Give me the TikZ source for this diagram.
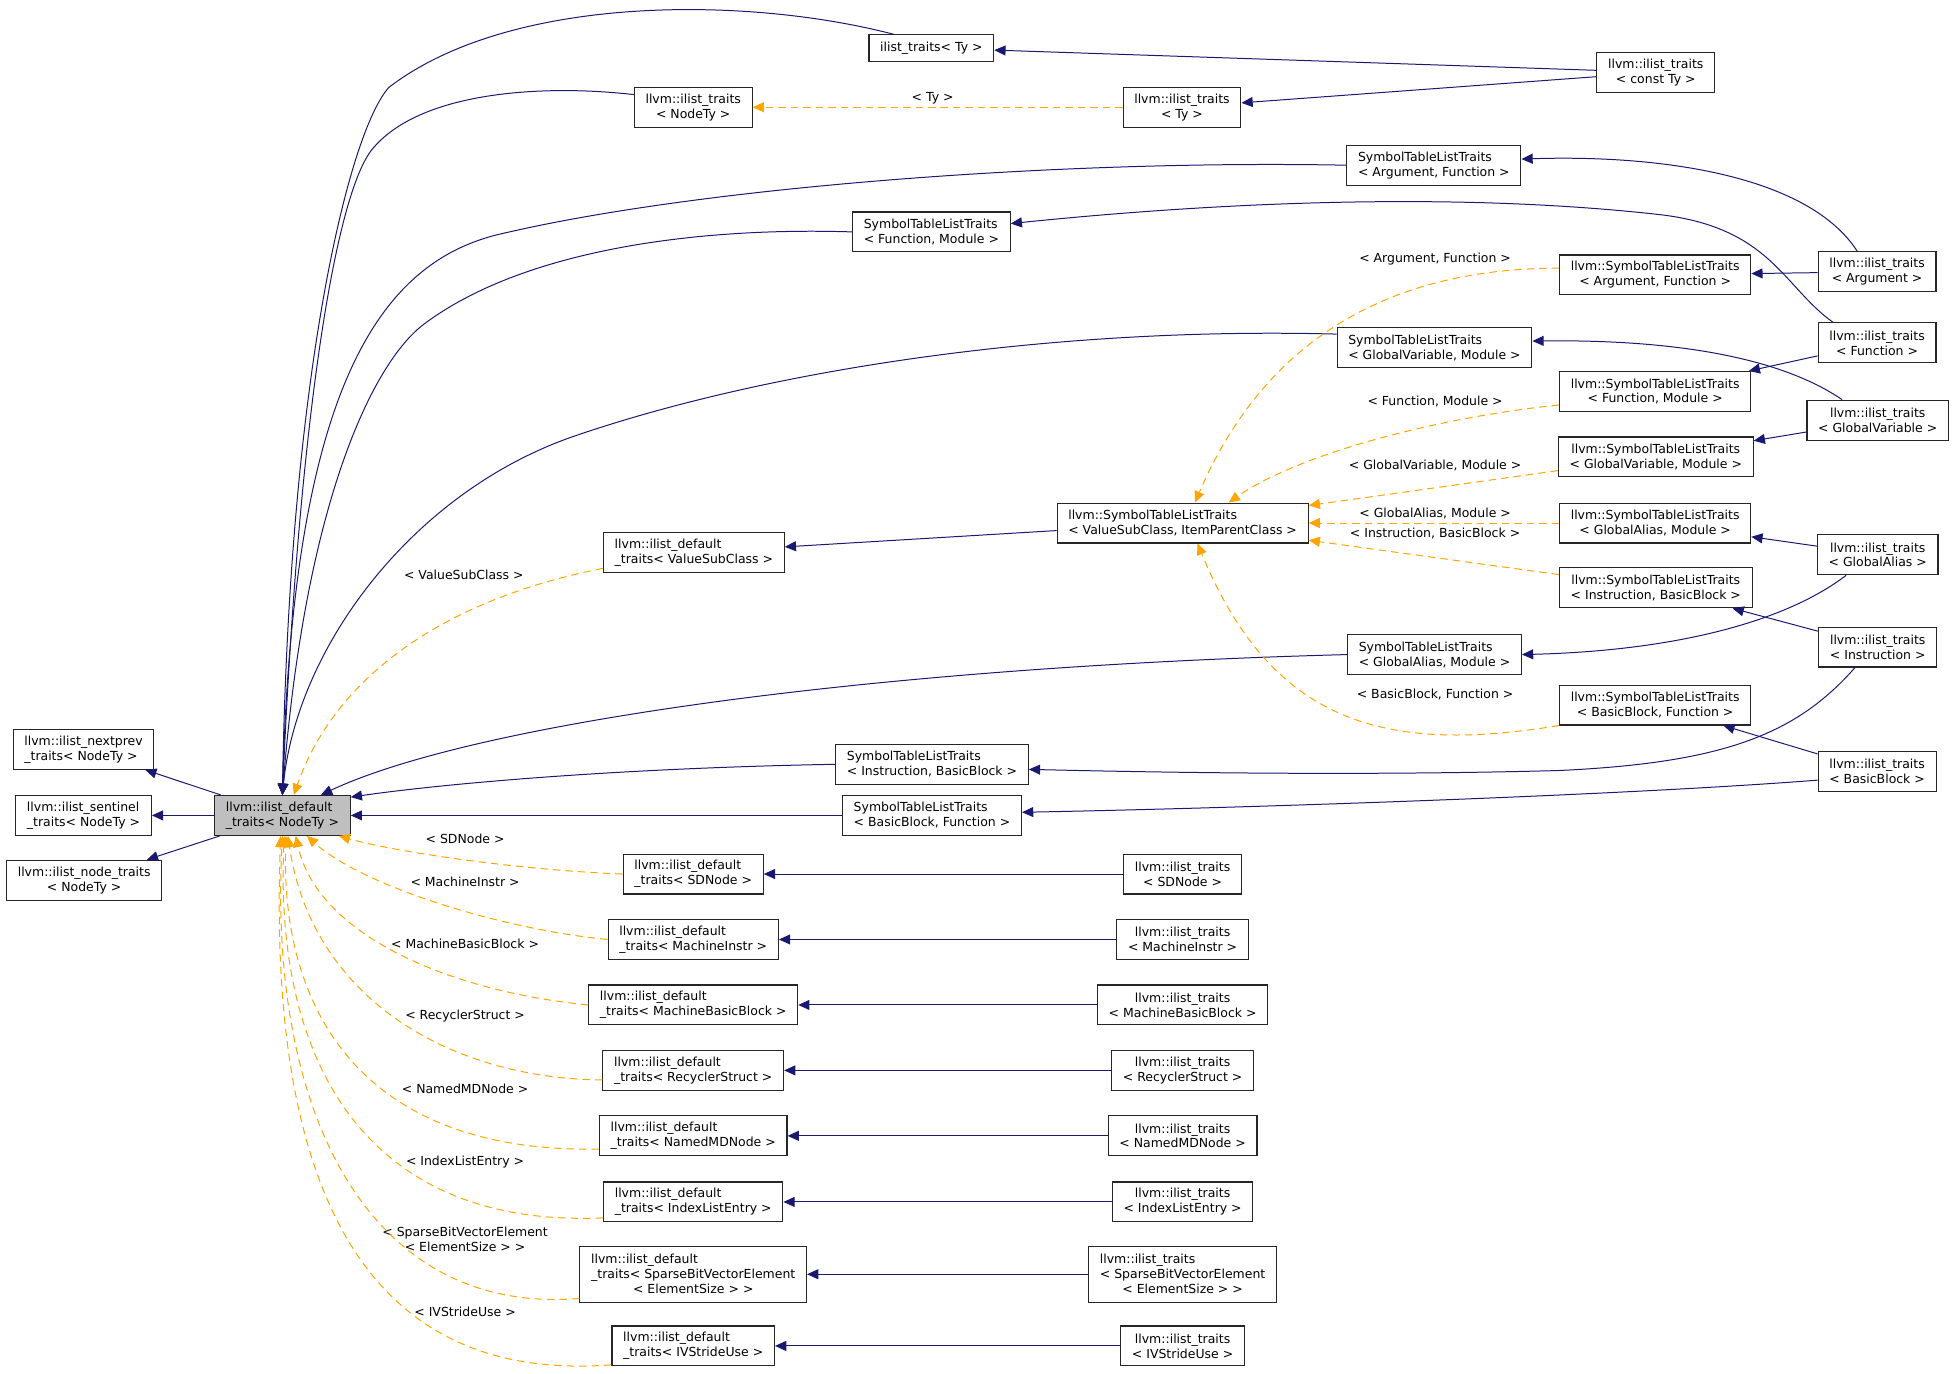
\documentclass[tikz,border=0pt]{standalone}
\usepackage{fontspec}
\setmainfont{DejaVu Sans}
\usepackage{tikz}
\usetikzlibrary{arrows.meta}
\definecolor{edgeblue}{HTML}{191970}
\definecolor{edgeorange}{HTML}{FFA500}
\definecolor{rootgray}{HTML}{BFBFBF}
\tikzset{
    basic/.style  = {draw=black!85, line width=0.9pt, rectangle, fill=white, font=\fontsize{10}{12}\selectfont, inner xsep=9pt, inner ysep=2pt, minimum height=32pt},
    cls/.style    = {basic, align=left},
    ccls/.style   = {basic, align=center},
    onecls/.style = {basic, minimum height=21pt},
    threecls/.style = {basic, align=center, minimum height=45pt},
    root/.style   = {cls, fill=rootgray},
    tlabel/.style = {font=\fontsize{10}{12}\selectfont, inner sep=0pt, align=center}
}
\begin{document}
\begin{tikzpicture}[x=1pt, y=-1pt,
	inherit edge/.style={->, draw=edgeblue, line width=0.8pt},
	template edge/.style={->, draw=edgeorange, line width=0.8pt, dash pattern=on 6pt off 4pt},
	>={Triangle[length=9pt,width=8pt]}]
	\useasboundingbox (0,0) rectangle (1568,1102);
	\node[root] (root) at (226.5,654) {llvm::ilist\_default\\\_traits< NodeTy >};
	\node[cls] (nextprev) at (67,601) {llvm::ilist\_nextprev\\\_traits< NodeTy >};
	\node[cls] (sentinel) at (67,654) {llvm::ilist\_sentinel\\\_traits< NodeTy >};
	\node[ccls] (nodetraits) at (67.5,706) {llvm::ilist\_node\_traits\\< NodeTy >};
	\node[onecls] (iltTy) at (747,38.5) {ilist\_traits< Ty >};
	\node[ccls] (iltNodeTy) at (556,86) {llvm::ilist\_traits\\< NodeTy >};
	\node[ccls] (lltTy) at (948,86) {llvm::ilist\_traits\\< Ty >};
	\node[ccls] (constTy) at (1328,58) {llvm::ilist\_traits\\< const Ty >};
	\node[cls] (stArgFn) at (1150,132.5) {SymbolTableListTraits\\< Argument, Function >};
	\node[cls] (stFnMod) at (747,186) {SymbolTableListTraits\\< Function, Module >};
	\node[cls] (stGVMod) at (1150.5,279) {SymbolTableListTraits\\< GlobalVariable, Module >};
	\node[cls] (stGAMod) at (1150.5,525) {SymbolTableListTraits\\< GlobalAlias, Module >};
	\node[cls] (stInstBB) at (747.5,613) {SymbolTableListTraits\\< Instruction, BasicBlock >};
	\node[cls] (stBBFn) at (747.5,654) {SymbolTableListTraits\\< BasicBlock, Function >};
	\node[cls] (vst) at (948.5,419.5) {llvm::SymbolTableListTraits\\< ValueSubClass, ItemParentClass >};
	\node[cls] (dVSC) at (556.5,443) {llvm::ilist\_default\\\_traits< ValueSubClass >};
	\node[ccls] (lstArgFn) at (1327.5,220.5) {llvm::SymbolTableListTraits\\< Argument, Function >};
	\node[ccls] (lstFnMod) at (1327.5,314) {llvm::SymbolTableListTraits\\< Function, Module >};
	\node[ccls] (lstGVMod) at (1328,366.5) {llvm::SymbolTableListTraits\\< GlobalVariable, Module >};
	\node[ccls] (lstGAMod) at (1327.5,419.5) {llvm::SymbolTableListTraits\\< GlobalAlias, Module >};
	\node[ccls] (lstInstBB) at (1328,471.5) {llvm::SymbolTableListTraits\\< Instruction, BasicBlock >};
	\node[ccls] (lstBBFn) at (1327.5,565.5) {llvm::SymbolTableListTraits\\< BasicBlock, Function >};
	\node[ccls] (tArg) at (1505.5,218) {llvm::ilist\_traits\\< Argument >};
	\node[ccls] (tFn) at (1505.5,275) {llvm::ilist\_traits\\< Function >};
	\node[ccls] (tGV) at (1506,337) {llvm::ilist\_traits\\< GlobalVariable >};
	\node[ccls] (tGA) at (1506,445) {llvm::ilist\_traits\\< GlobalAlias >};
	\node[ccls] (tInst) at (1506,519) {llvm::ilist\_traits\\< Instruction >};
	\node[ccls] (tBB) at (1505.5,619) {llvm::ilist\_traits\\< BasicBlock >};
	\node[cls] (dSD) at (556,701) {llvm::ilist\_default\\\_traits< SDNode >};
	\node[cls] (dMI) at (556,753.5) {llvm::ilist\_default\\\_traits< MachineInstr >};
	\node[cls] (dMBB) at (556,806) {llvm::ilist\_default\\\_traits< MachineBasicBlock >};
	\node[cls] (dRS) at (556,858.5) {llvm::ilist\_default\\\_traits< RecyclerStruct >};
	\node[cls] (dNMD) at (556,911) {llvm::ilist\_default\\\_traits< NamedMDNode >};
	\node[cls] (dILE) at (556,964) {llvm::ilist\_default\\\_traits< IndexListEntry >};
	\node[threecls] (dSBV) at (556,1022) {\rlap{llvm::ilist\_default}\phantom{\_traits< SparseBitVectorElement}\\\_traits< SparseBitVectorElement\\< ElementSize > >};
	\node[cls] (dIVS) at (556,1079.5) {llvm::ilist\_default\\\_traits< IVStrideUse >};
	\node[ccls] (tSD) at (948.5,701) {llvm::ilist\_traits\\< SDNode >};
	\node[ccls] (tMI) at (948.5,753.5) {llvm::ilist\_traits\\< MachineInstr >};
	\node[ccls] (tMBB) at (948.5,806) {llvm::ilist\_traits\\< MachineBasicBlock >};
	\node[ccls] (tRS) at (948.5,858.5) {llvm::ilist\_traits\\< RecyclerStruct >};
	\node[ccls] (tNMD) at (948.5,911) {llvm::ilist\_traits\\< NamedMDNode >};
	\node[ccls] (tILE) at (948.5,964) {llvm::ilist\_traits\\< IndexListEntry >};
	\node[threecls] (tSBV) at (948.5,1022) {\rlap{llvm::ilist\_traits}\phantom{< SparseBitVectorElement}\\< SparseBitVectorElement\\< ElementSize > >};
	\node[ccls] (tIVS) at (948.5,1079.5) {llvm::ilist\_traits\\< IVStrideUse >};
	\node[tlabel] (lTy) at (748,79) {< Ty >};
	\node[tlabel] (lArgFn) at (1151,208) {< Argument, Function >};
	\node[tlabel] (lFnMod) at (1151,322) {< Function, Module >};
	\node[tlabel] (lGVMod) at (1151,373.5) {< GlobalVariable, Module >};
	\node[tlabel] (lGAMod) at (1151,412) {< GlobalAlias, Module >};
	\node[tlabel] (lInstBB) at (1151,428) {< Instruction, BasicBlock >};
	\node[tlabel] (lBBFn) at (1151,557) {< BasicBlock, Function >};
	\node[tlabel] (lVSC) at (372,461) {< ValueSubClass >};
	\node[tlabel] (lSD) at (373,673) {< SDNode >};
	\node[tlabel] (lMI) at (373,707) {< MachineInstr >};
	\node[tlabel] (lMBB) at (373,757) {< MachineBasicBlock >};
	\node[tlabel] (lRS) at (373,815) {< RecyclerStruct >};
	\node[tlabel] (lNMD) at (373,873.5) {< NamedMDNode >};
	\node[tlabel] (lILE) at (373,932) {< IndexListEntry >};
	\node[tlabel] (lSBV) at (373,994) {< SparseBitVectorElement\\< ElementSize > >};
	\node[tlabel] (lIVS) at (373,1052) {< IVStrideUse >};
	\draw[inherit edge] (root) -- (nextprev);
	\draw[inherit edge] (root) -- (sentinel);
	\draw[inherit edge] (root) -- (nodetraits);
	\draw[inherit edge] (iltTy.160) .. controls (600,-3) and (410,-5) .. (312,70) .. controls (280,105) and (232,300) .. (root.north);
	\draw[inherit edge] (iltNodeTy.168) .. controls (440,68) and (340,72) .. (300,118) .. controls (270,150) and (240,330) .. (root.north);
	\draw[inherit edge] (stArgFn.west) .. controls (850,128) and (560,150) .. (400,188) .. controls (300,212) and (235,320) .. (root.north);
	\draw[inherit edge] (stFnMod.west) .. controls (560,182) and (420,200) .. (340,260) .. controls (300,290) and (245,400) .. (root.north);
	\draw[inherit edge] (stGVMod.172) .. controls (850,262) and (620,295) .. (460,350) .. controls (330,395) and (238,520) .. (root.north);
	\draw[inherit edge] (stGAMod.west) .. controls (700,535) and (380,580) .. (root.28);
	\draw[inherit edge] (stInstBB.west) .. controls (500,616) and (360,628) .. (root.15);
	\draw[inherit edge] (stBBFn) -- (root);
	\draw[template edge] (dVSC.190) .. controls (360,480) and (270,540) .. (root.61);
	\draw[template edge] (dSD.west) .. controls (420,698) and (320,684) .. (root.-20);
	\draw[template edge] (dMI.west) .. controls (400,745) and (290,710) .. (root.-40);
	\draw[template edge] (dMBB.west) .. controls (360,795) and (255,750) .. (root.-57);
	\draw[template edge] (dRS.186) .. controls (360,865) and (250,800) .. (root.-75);
	\draw[template edge] (dNMD.188) .. controls (290,925) and (225,810) .. (root.-80);
	\draw[template edge] (dILE.190) .. controls (300,985) and (220,860) .. (root.-85);
	\draw[template edge] (dSBV.192) .. controls (300,1055) and (215,900) .. (root.-90);
	\draw[template edge] (dIVS.193) .. controls (290,1110) and (215,950) .. (root.-95);
	\draw[inherit edge] (constTy) -- (iltTy);
	\draw[inherit edge] (constTy) -- (lltTy);
	\draw[template edge] (lltTy) -- (iltNodeTy);
	\draw[inherit edge] (tArg.134) .. controls (1450,140) and (1330,124) .. (stArgFn.4);
	\draw[inherit edge] (tArg) -- (lstArgFn);
	\draw[inherit edge] (tFn.155) .. controls (1430,230) and (1420,182) .. (1330,172) .. controls (1150,152) and (950,165) .. (stFnMod.6);
	\draw[inherit edge] (tFn) -- (lstFnMod);
	\draw[inherit edge] (tGV.150) .. controls (1440,295) and (1370,272) .. (stGVMod.4);
	\draw[inherit edge] (tGV) -- (lstGVMod);
	\draw[inherit edge] (tGA.-147) .. controls (1430,500) and (1340,522) .. (stGAMod.east);
	\draw[inherit edge] (tGA) -- (lstGAMod);
	\draw[inherit edge] (tInst.-138) .. controls (1440,590) and (1380,612) .. (1250,618) .. controls (1100,622) and (950,620) .. (stInstBB.-3);
	\draw[inherit edge] (tInst) -- (lstInstBB);
	\draw[inherit edge] (tBB.-172) .. controls (1300,638) and (1000,648) .. (stBBFn.2);
	\draw[inherit edge] (tBB) -- (lstBBFn);
	\draw[inherit edge] (vst) -- (dVSC);
	\draw[template edge] (lstArgFn.176) .. controls (1130,215) and (1020,260) .. (vst.59);
	\draw[template edge] (lstFnMod.188) .. controls (1150,335) and (1040,365) .. (vst.24);
	\draw[template edge] (lstGVMod) -- (vst);
	\draw[template edge] (lstGAMod) -- (vst);
	\draw[template edge] (lstInstBB) -- (vst);
	\draw[template edge] (lstBBFn.192) .. controls (1110,605) and (1020,580) .. (vst.-54);
	\draw[inherit edge] (tSD) -- (dSD);
	\draw[inherit edge] (tMI) -- (dMI);
	\draw[inherit edge] (tMBB) -- (dMBB);
	\draw[inherit edge] (tRS) -- (dRS);
	\draw[inherit edge] (tNMD) -- (dNMD);
	\draw[inherit edge] (tILE) -- (dILE);
	\draw[inherit edge] (tSBV) -- (dSBV);
	\draw[inherit edge] (tIVS) -- (dIVS);
\end{tikzpicture}
\end{document}
